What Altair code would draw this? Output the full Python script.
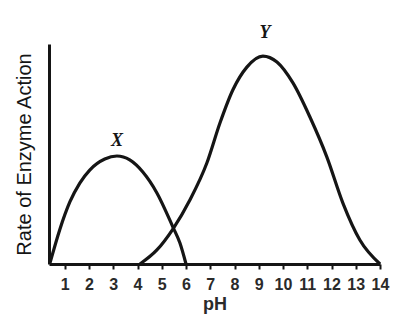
import altair as alt
import pandas as pd

# Enzyme X: pH vs. rate of action
x_ph = [0.38, 0.79, 1.21, 1.62, 2.03, 2.65, 3.15, 3.68, 4.22, 4.80, 5.46, 5.75, 6.0]
x_rate = [0.0, 1.55, 2.82, 3.68, 4.27, 4.77, 4.91, 4.73, 4.18, 3.23, 1.68, 0.95, 0.0]

# Enzyme Y: pH vs. rate of action
y_ph = [4.10, 4.80, 5.46, 6.16, 6.86, 7.40, 7.93, 8.51, 9.17, 9.75, 10.41, 11.11,
        11.81, 12.47, 13.17, 14.0]
y_rate = [0.0, 0.64, 1.59, 2.91, 4.59, 6.41, 7.91, 8.95, 9.45, 9.18, 8.23, 6.68,
          4.86, 2.77, 1.09, 0.0]

ph_ticks = list(range(1, 15))

curves = pd.concat([
    pd.DataFrame({"enzyme": "X", "pH": x_ph, "rate": x_rate}),
    pd.DataFrame({"enzyme": "Y", "pH": y_ph, "rate": y_rate}),
])

x_peak = pd.DataFrame({"label": ["X"], "pH": [x_ph[x_rate.index(max(x_rate))]],
                       "rate": [max(x_rate)]})
y_peak = pd.DataFrame({"label": ["Y"], "pH": [y_ph[y_rate.index(max(y_rate))]],
                       "rate": [max(y_rate)]})

ink = "#151515"

x_scale = alt.Scale(domain=[0.35, 14.0], nice=False, zero=False)
y_scale = alt.Scale(domain=[0, 10], nice=False)

x_axis = alt.Axis(
    title="pH", values=ph_ticks, tickCount=14, grid=False, format="d",
    domainColor=ink, domainWidth=3, tickColor=ink, tickWidth=2, tickSize=5,
    labelFont="Liberation Sans", labelFontSize=16, labelFontWeight="bold",
    labelColor="#2a2a2a", labelPadding=7, labelFlush=False, labelOverlap=False,
    titleFont="Liberation Sans", titleFontSize=18, titleFontWeight="bold",
    titleColor="#2a2a2a", titlePadding=3,
)
y_axis = alt.Axis(
    title="Rate of Enzyme Action", labels=False, ticks=False, grid=False,
    domainColor=ink, domainWidth=3,
    titleFont="Liberation Sans", titleFontSize=20, titleFontWeight="normal",
    titleColor=ink, titleAngle=-90, titleX=-25, titleY=110,
    titleAlign="center", titleBaseline="middle",
)

x_enc = alt.X("pH:Q", scale=x_scale, axis=x_axis)
y_enc = alt.Y("rate:Q", scale=y_scale, axis=y_axis)

lines = alt.Chart(curves).mark_line(
    color=ink, strokeWidth=3.2, interpolate="monotone"
).encode(x=x_enc, y=y_enc, detail="enzyme:N")

label_style = dict(font="Liberation Serif", fontSize=18, fontStyle="italic",
                   fontWeight="bold", color=ink, align="center", baseline="middle")

x_label = alt.Chart(x_peak).mark_text(dy=-15, **label_style).encode(
    x=x_enc, y=y_enc, text="label:N"
)
y_label = alt.Chart(y_peak).mark_text(dy=-23, dx=2, **label_style).encode(
    x=x_enc, y=y_enc, text="label:N"
)

chart = alt.layer(lines, x_label, y_label).properties(
    width=331, height=220,
    autosize=alt.AutoSizeParams(type="none"),
    padding={"left": 49, "top": 44, "right": 39, "bottom": 67},
    background="white",
).configure_view(stroke=None)

chart.save("out.html", embed_options={"renderer": "svg", "actions": False})
